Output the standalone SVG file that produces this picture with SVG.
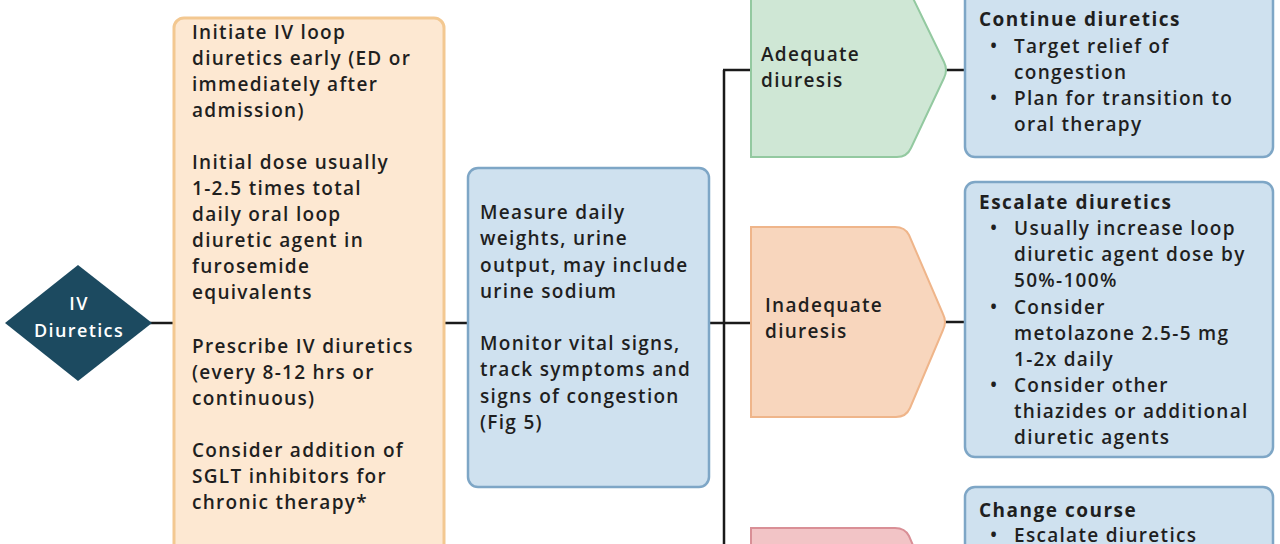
<svg xmlns="http://www.w3.org/2000/svg" width="1280" height="544" viewBox="0 0 1280 544">
<style>
  text { font-family: "Open Sans", "Liberation Sans", sans-serif; font-size: 19px; font-weight: 600; fill: #1f1f1f; letter-spacing: 1.3px; }
  .white { fill: #ffffff; font-size: 18px; letter-spacing: 1.4px; }
  .title { font-weight: 700; letter-spacing: 1.5px; }
  .conn { stroke: #1a1a1a; stroke-width: 2.5; fill: none; }
  .orange { fill: #fde8d2; stroke: #f3c891; stroke-width: 3; }
  .blue { fill: #cfe1ef; stroke: #7ea6c6; stroke-width: 2.5; }
  .green { fill: #cfe7d5; stroke: #93c9a0; stroke-width: 2; }
  .peach { fill: #f8d6bd; stroke: #efb58a; stroke-width: 2; }
  .red { fill: #f2c4c6; stroke: #d98f96; stroke-width: 2; }
</style>
<rect width="1280" height="544" fill="#ffffff"/>
<g id="connectors">
  <line class="conn" x1="150" y1="323" x2="175" y2="323"/>
  <line class="conn" x1="444" y1="323" x2="469" y2="323"/>
  <line class="conn" x1="708" y1="323" x2="752" y2="323"/>
  <line class="conn" x1="724" y1="70" x2="724" y2="544"/>
  <line class="conn" x1="723" y1="70" x2="752" y2="70"/>
  <line class="conn" x1="945" y1="70" x2="966" y2="70"/>
  <line class="conn" x1="945" y1="322" x2="966" y2="322"/>
</g>
<g id="iv-diuretics">
  <polygon points="78,265 152,323 78,381 5,323" fill="#1c4a60"/>
  <text class="white" x="79" y="310" text-anchor="middle">IV</text>
  <text class="white" x="79" y="337" text-anchor="middle">Diuretics</text>
</g>
<g id="initiate">
  <rect class="orange" x="174" y="18" width="270" height="560" rx="10"/>
  <text x="192" y="39">Initiate IV loop</text>
  <text x="192" y="65">diuretics early (ED or</text>
  <text x="192" y="91">immediately after</text>
  <text x="192" y="117">admission)</text>
  <text x="192" y="169">Initial dose usually</text>
  <text x="192" y="195">1-2.5 times total</text>
  <text x="192" y="221">daily oral loop</text>
  <text x="192" y="247">diuretic agent in</text>
  <text x="192" y="273">furosemide</text>
  <text x="192" y="299">equivalents</text>
  <text x="192" y="353">Prescribe IV diuretics</text>
  <text x="192" y="379">(every 8-12 hrs or</text>
  <text x="192" y="405">continuous)</text>
  <text x="192" y="457">Consider addition of</text>
  <text x="192" y="483">SGLT inhibitors for</text>
  <text x="192" y="509">chronic therapy*</text>
</g>
<g id="monitor">
  <rect class="blue" x="468" y="168" width="241" height="319" rx="10"/>
  <text x="480" y="219">Measure daily</text>
  <text x="480" y="245">weights, urine</text>
  <text x="480" y="272">output, may include</text>
  <text x="480" y="298">urine sodium</text>
  <text x="480" y="350">Monitor vital signs,</text>
  <text x="480" y="376">track symptoms and</text>
  <text x="480" y="403">signs of congestion</text>
  <text x="480" y="429">(Fig 5)</text>
</g>
<g id="adequate">
  <path class="green" d="M751,-18 L895,-18 Q905,-18 909,-10 L944,62 Q948,70 944,78 L911,148 Q907,157 897,157 L751,157 Z"/>
  <text x="761" y="61">Adequate</text>
  <text x="761" y="87">diuresis</text>
</g>
<g id="inadequate">
  <path class="peach" d="M751,227 L895,227 Q905,227 909,235 L943,314 Q947,322 943,330 L910,408 Q906,417 896,417 L751,417 Z"/>
  <text x="765" y="312">Inadequate</text>
  <text x="765" y="338">diuresis</text>
</g>
<g id="poor">
  <path class="red" d="M751,528 L895,528 Q905,528 909,536 L915,550 L751,550 Z"/>
</g>
<g id="continue">
  <rect class="blue" x="965" y="-12" width="308" height="169" rx="10"/>
  <text class="title" x="979" y="26">Continue diuretics</text>
  <text x="990" y="53">•</text><text x="1014" y="53">Target relief of</text>
  <text x="1014" y="79">congestion</text>
  <text x="990" y="105">•</text><text x="1014" y="105">Plan for transition to</text>
  <text x="1014" y="131">oral therapy</text>
</g>
<g id="escalate">
  <rect class="blue" x="965" y="182" width="308" height="275" rx="10"/>
  <text class="title" x="979" y="209">Escalate diuretics</text>
  <text x="990" y="235">•</text><text x="1014" y="235">Usually increase loop</text>
  <text x="1014" y="261">diuretic agent dose by</text>
  <text x="1014" y="287">50%-100%</text>
  <text x="990" y="314">•</text><text x="1014" y="314">Consider</text>
  <text x="1014" y="340">metolazone 2.5-5 mg</text>
  <text x="1014" y="366">1-2x daily</text>
  <text x="990" y="392">•</text><text x="1014" y="392">Consider other</text>
  <text x="1014" y="418">thiazides or additional</text>
  <text x="1014" y="444">diuretic agents</text>
</g>
<g id="change">
  <rect class="blue" x="965" y="487" width="308" height="80" rx="10"/>
  <text class="title" x="979" y="517">Change course</text>
  <text x="990" y="542">•</text><text x="1014" y="542">Escalate diuretics</text>
</g>
</svg>
